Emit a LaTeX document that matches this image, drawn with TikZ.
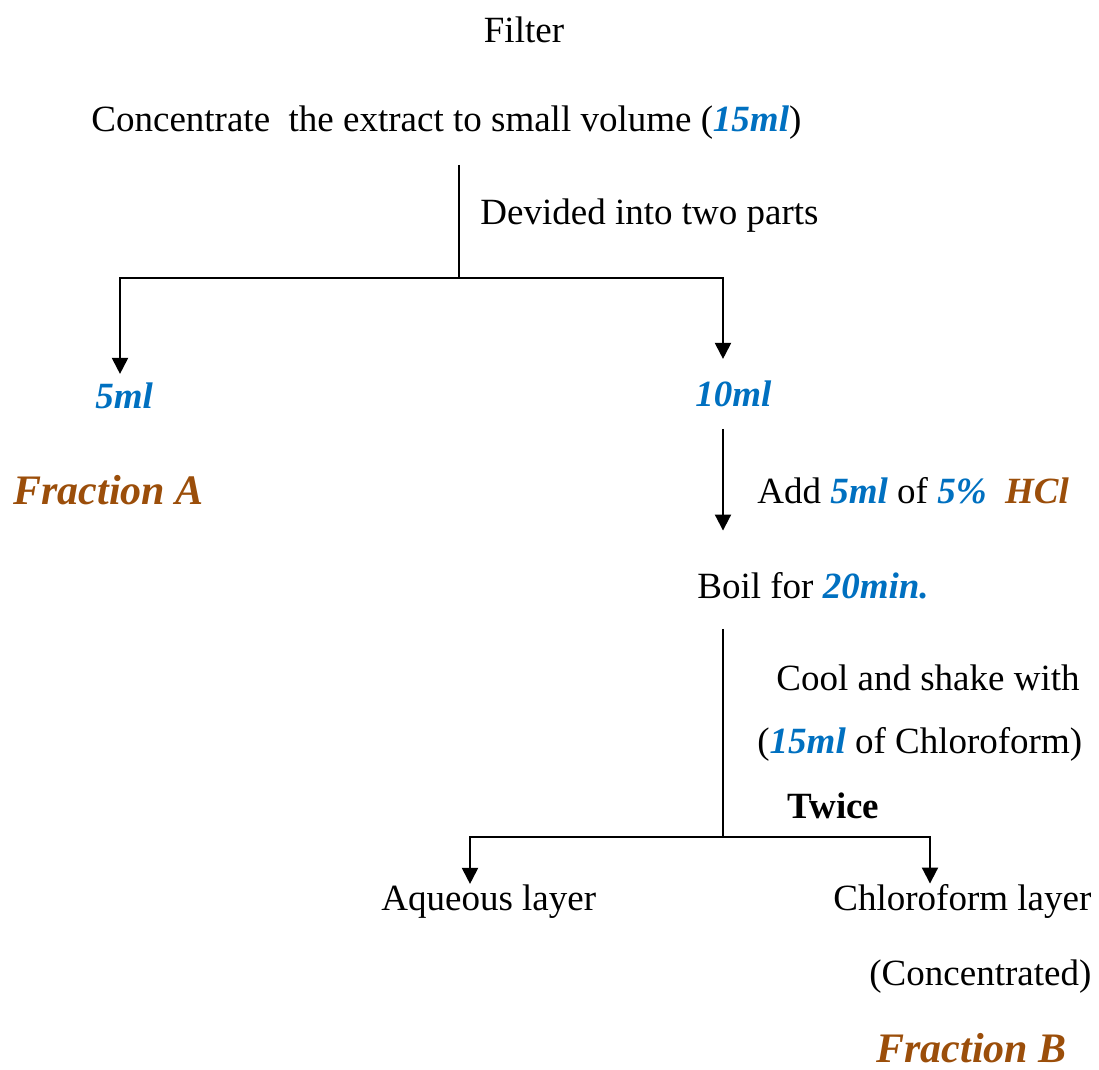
\documentclass[tikz,border=0pt]{standalone}
\usepackage{fontspec}
\setmainfont{Liberation Serif}
\usepackage{xcolor}
\usetikzlibrary{arrows.meta, positioning, calc}
\definecolor{mlblue}{RGB}{0,112,192}
\definecolor{fracbrown}{RGB}{155,78,10}
\tikzset{
  txt/.style={anchor=base west, inner sep=0pt, font=\fontsize{18.5}{22}\selectfont},
  frac/.style={anchor=base west, inner sep=0pt, text=fracbrown,
               font=\fontsize{21}{25}\selectfont\bfseries\itshape},
  line/.style={line width=1pt, draw=black},
  arr/.style={-{Triangle[length=8pt,width=8pt]}, line width=1pt, draw=black},
}
\newcommand{\hlb}[1]{\textcolor{mlblue}{\textbf{\textit{#1}}}}
\newcommand{\hlr}[1]{\textcolor{fracbrown}{\textbf{\textit{#1}}}}

\begin{document}
\begin{tikzpicture}[x=0.5pt, y=-0.5pt]
\useasboundingbox (0,0) rectangle (1099,1070);

% Kopf
\node[txt, anchor=base] (filt) at (524,43) {Filter};
\node[txt] (conc) at (91,132) {Concentrate\ \ the extract to small volume (\hlb{15ml})};
\node[txt] (div) at (480,225) {Devided into two parts};

% Verzweigung 1
\coordinate (s1) at (459,165);
\coordinate (j1) at (459,278);
\coordinate (jl) at (120,278);
\coordinate (jr) at (723,278);

\node[txt] (ml5) at (95,408) {\hlb{5ml}};
\node[txt] (ml10) at (695,406) {\hlb{10ml}};
\node[frac] (fracA) at (13,504) {Fraction A};

\draw[line] (s1) -- (j1);
\draw[arr, shorten >=4pt] (j1) -| (jl |- ml5.north);
\draw[arr, shorten >=10.5pt] (j1) -| (jr |- ml10.north);

% Saeure und Kochen
\node[txt] (add) at (757,503) {Add \hlb{5ml} of \hlb{5\%}\ \ \hlr{HCl}};
\node[txt] (boil) at (697,598) {Boil for \hlb{20min.}};
\draw[arr, shorten <=11pt, shorten >=20.5pt] (jr |- ml10.south) -- (jr |- boil.north);

% Ausschuetteln
\node[txt] (cool) at (776,690) {Cool and shake with};
\node[txt] (chl15) at (757,753) {(\hlb{15ml} of Chloroform)};
\node[txt, font=\fontsize{18.5}{22}\selectfont\bfseries] (twice) at (787,818) {Twice};

% Verzweigung 2
\coordinate (j2) at (723,837);
\coordinate (al) at (470,837);
\coordinate (ar) at (930,837);

\node[txt] (aq) at (381,910) {Aqueous layer};
\node[txt] (chl) at (833,910) {Chloroform layer};
\node[txt] (concd) at (869,985) {(Concentrated)};
\node[frac] (fracB) at (876,1062) {Fraction B};

\draw[line, shorten <=15pt] (jr |- boil.south) -- (j2);
\draw[arr] (j2) -| (al |- aq.north);
\draw[arr] (j2) -| (ar |- chl.north);

\end{tikzpicture}
\end{document}
